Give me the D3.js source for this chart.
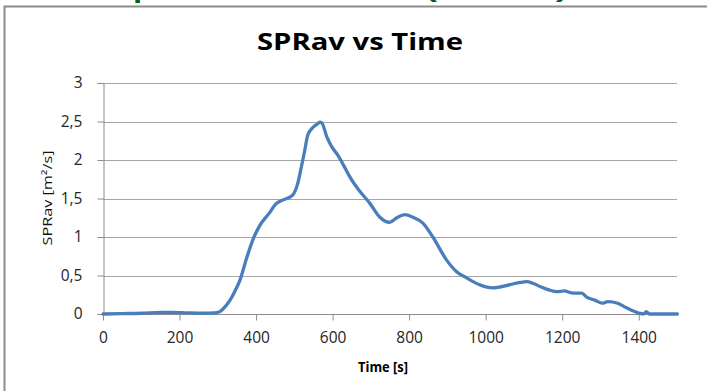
<!DOCTYPE html>
<html>
<head>
<meta charset="utf-8">
<script src="https://cdn.jsdelivr.net/npm/d3@7"></script>
<style>
  html, body { margin: 0; padding: 0; background: #fff; }
  svg { display: block; }
</style>
</head>
<body>
<div id="chart"></div>
<script>
const time = [0, 50, 100, 150, 180, 220, 260, 290, 305, 320, 332, 345, 358, 375, 392, 410, 436, 450, 465, 480,
  495, 508, 518, 527, 535, 548, 558, 567, 572, 585, 598, 614, 630, 645, 670, 697, 723, 749, 768, 789, 809,
  836, 862, 898, 924, 950, 984, 1018, 1063, 1090, 1107, 1123, 1145, 1167, 1185, 1206, 1220, 1232, 1251, 1264,
  1285, 1305, 1319, 1345, 1368, 1402, 1412, 1420, 1428, 1460, 1501];
const sprav = [0, 0.005, 0.01, 0.02, 0.022, 0.015, 0.01, 0.015, 0.03, 0.1, 0.18, 0.3, 0.44, 0.72, 0.97, 1.15, 1.32, 1.42, 1.47, 1.5,
  1.54, 1.68, 1.9, 2.12, 2.32, 2.42, 2.46, 2.49, 2.48, 2.3, 2.17, 2.06, 1.92, 1.78, 1.6, 1.44, 1.26, 1.19, 1.25, 1.29, 1.26,
  1.18, 1.0, 0.7, 0.55, 0.47, 0.38, 0.34, 0.38, 0.41, 0.42, 0.4, 0.35, 0.31, 0.29, 0.3, 0.28, 0.27, 0.27, 0.22,
  0.18, 0.14, 0.16, 0.14, 0.08, 0.01, 0.0, 0.03, 0.0, 0.0, 0.0];
const xTicks = [0, 200, 400, 600, 800, 1000, 1200, 1400];
const yTicks = [0, 0.5, 1, 1.5, 2, 2.5, 3];

const W = 707, H = 391;
const svg = d3.select("#chart").append("svg").attr("width", W).attr("height", H);
const font = "'Open Sans', sans-serif";

// green heading, cut off at the top of the crop
svg.append("text").attr("x", 133).attr("y", -4).attr("fill", "#0b5a16")
  .style("font", `bold 30px ${font}`).text("p");
svg.append("text").attr("x", 425).attr("y", -2).attr("fill", "#0b5a16")
  .attr("textLength", 143).attr("lengthAdjust", "spacingAndGlyphs")
  .style("font", `bold 28px ${font}`).text("(SPRav)");

// chart frame
svg.append("rect").attr("x", 4.5).attr("y", 6.5).attr("width", 720).attr("height", 400)
  .attr("fill", "#fff").attr("stroke", "#8c8c8c").attr("stroke-width", 2);

const plot = { left: 103, right: 677, top: 83, bottom: 314 };
const x = d3.scaleLinear().domain([0, 1500]).range([plot.left, plot.right]);
const y = d3.scaleLinear().domain([0, 3]).range([plot.bottom, plot.top]);

// gridlines
svg.append("g").selectAll("line").data(yTicks.slice(1)).join("line")
  .attr("x1", plot.left).attr("x2", plot.right)
  .attr("y1", (d) => Math.round(y(d)) + 0.5).attr("y2", (d) => Math.round(y(d)) + 0.5)
  .attr("stroke", "#a6a6a6").attr("stroke-width", 1);

const yAxis = svg.append("g").attr("transform", `translate(${plot.left + 0.5},0)`)
  .call(d3.axisLeft(y).tickValues(yTicks).tickSize(6).tickPadding(15)
    .tickFormat((d) => String(d).replace(".", ",")));
const xAxis = svg.append("g").attr("transform", `translate(0,${plot.bottom + 0.5})`)
  .call(d3.axisBottom(x).tickValues(xTicks).tickSize(6).tickPadding(11).tickFormat((d) => d));

[yAxis, xAxis].forEach((g) => {
  g.select(".domain").attr("stroke", "#8c8c8c");
  g.selectAll(".tick line").attr("stroke", "#8c8c8c");
  g.selectAll(".tick text").attr("fill", "#262626").style("font", `15.5px ${font}`);
});
xAxis.select(".domain").attr("d", `M${plot.left},0H${plot.right}`);

// data line
svg.append("path").datum(time.map((t, i) => [t, sprav[i]]))
  .attr("fill", "none").attr("stroke", "#4a7ebb").attr("stroke-width", 3.3)
  .attr("stroke-linejoin", "round").attr("stroke-linecap", "round")
  .attr("d", d3.line().x((d) => x(d[0])).y((d) => y(d[1])).curve(d3.curveMonotoneX));

// titles
svg.append("text").attr("x", 360).attr("y", 50).attr("text-anchor", "middle")
  .attr("textLength", 206).attr("lengthAdjust", "spacingAndGlyphs")
  .attr("fill", "#000").style("font", `bold 24px ${font}`).text("SPRav vs Time");
svg.append("text").attr("x", 383).attr("y", 372).attr("text-anchor", "middle")
  .attr("textLength", 50).attr("lengthAdjust", "spacingAndGlyphs")
  .attr("fill", "#000").style("font", `bold 14.5px ${font}`).text("Time [s]");
svg.append("text").attr("transform", "translate(52,198) rotate(-90)").attr("text-anchor", "middle")
  .attr("textLength", 95).attr("lengthAdjust", "spacingAndGlyphs")
  .attr("fill", "#111").style("font", `13px ${font}`).text("SPRav [m²/s]");
</script>
</body>
</html>
